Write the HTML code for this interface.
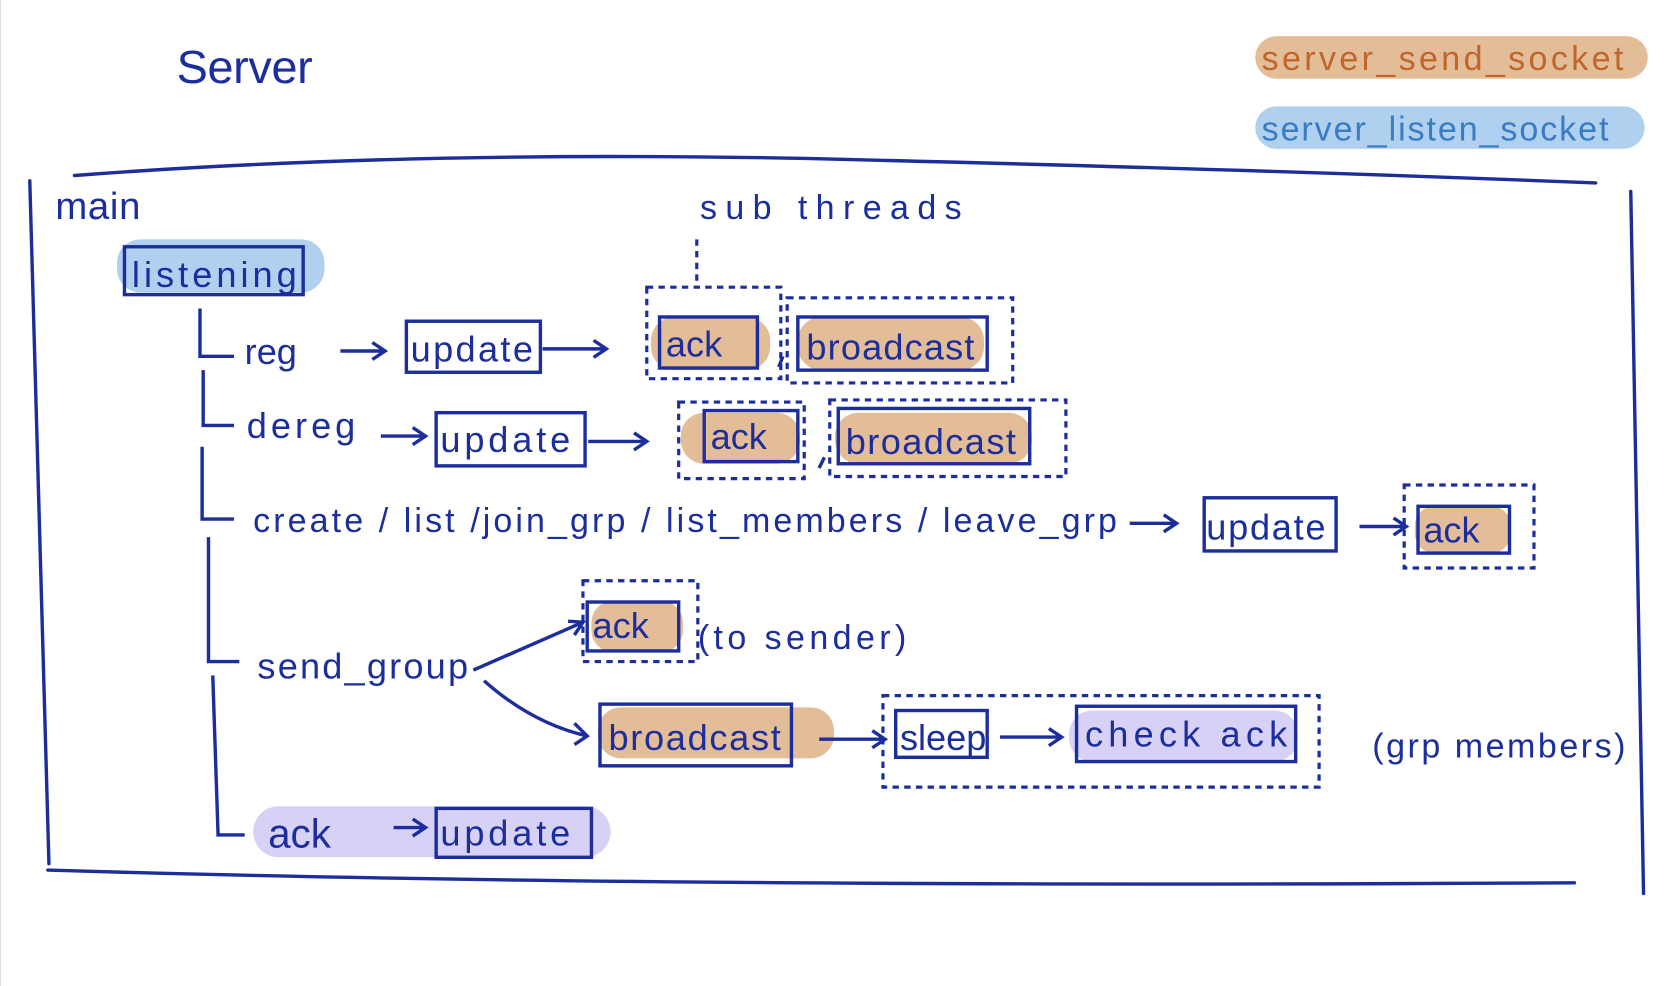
<!DOCTYPE html>
<html><head><meta charset="utf-8"><style>
html,body{margin:0;padding:0;background:#fff;width:1668px;height:986px;overflow:hidden}
svg{display:block}
text{font-family:"Liberation Sans",sans-serif;fill:#1c2d9c}
</style></head><body>
<svg width="1668" height="986" viewBox="0 0 1568 927" preserveAspectRatio="none">
<rect x="0" y="0" width="1568" height="927" fill="#fff"/>
<line x1="0.5" y1="0" x2="0.5" y2="927" stroke="#ddd"/>
<g stroke="#1c2d9c" stroke-width="3.2" fill="none" stroke-linecap="round">
<path d="M70 165 Q400 140 800 150 T1500 172"/>
<path d="M28 170 L46 812"/>
<path d="M45 818 Q600 835 1480 830"/>
<path d="M1533 180 L1545 840"/>
</g>
<text x="166" y="78" font-size="44" textLength="128">Server</text>
<rect x="1180" y="34" width="369" height="40" rx="20" fill="#e3bc98"/>
<text x="1186" y="66" font-size="32" textLength="340" style="fill:#c0662a">server_send_socket</text>
<rect x="1180" y="100" width="366" height="40" rx="20" fill="#afd0ee"/>
<text x="1186" y="132" font-size="32" textLength="326" style="fill:#3a7cc4">server_listen_socket</text>
<text x="52" y="206" font-size="36" textLength="80">main</text>
<text x="658" y="206" font-size="32" textLength="246">sub threads</text>
<g>
<rect x="110" y="225" width="195" height="50" rx="22" fill="#afd0ee"/>
<rect x="612" y="298" width="112" height="50" rx="22" fill="#e3bc98"/>
<rect x="750" y="298" width="175" height="50" rx="22" fill="#e3bc98"/>
<rect x="640" y="388" width="112" height="48" rx="22" fill="#e3bc98"/>
<rect x="785" y="388" width="185" height="48" rx="22" fill="#e3bc98"/>
<rect x="1330" y="476" width="90" height="44" rx="18" fill="#e3bc98"/>
<rect x="556" y="565" width="86" height="48" rx="20" fill="#e3bc98"/>
<rect x="562" y="665" width="222" height="48" rx="22" fill="#e3bc98"/>
<rect x="1005" y="668" width="215" height="48" rx="22" fill="#d7d1f6"/>
<rect x="238" y="758" width="336" height="48" rx="24" fill="#d7d1f6"/>
</g>
<g stroke="#1c2d9c" stroke-width="3.2" fill="none">
<rect x="117" y="232" width="168" height="45"/>
<rect x="382" y="302" width="126" height="48"/>
<rect x="620" y="298" width="92" height="48"/>
<rect x="750" y="298" width="178" height="50"/>
<rect x="410" y="388" width="140" height="50"/>
<rect x="662" y="386" width="88" height="48"/>
<rect x="788" y="384" width="180" height="52"/>
<rect x="1132" y="468" width="124" height="50"/>
<rect x="1333" y="476" width="86" height="44"/>
<rect x="552" y="566" width="86" height="46"/>
<rect x="564" y="662" width="180" height="58"/>
<rect x="842" y="668" width="86" height="44"/>
<rect x="1012" y="664" width="206" height="52"/>
<rect x="410" y="760" width="146" height="46"/>
<path d="M188 290 L188 335 L220 335"/>
<path d="M191 348 L191 400 L220 400"/>
<path d="M190 420 L190 488 L220 488"/>
<path d="M196 505 L196 622 L225 622"/>
<path d="M200 635 L205 785 L230 785"/>
<path d="M320 330 L362 330 M350 322 L362 330 L350 338"/>
<path d="M510 328 L570 328 M558 320 L570 328 L558 336"/>
<path d="M358 410 L400 410 M388 402 L400 410 L388 418"/>
<path d="M553 415 L608 415 M596 407 L608 415 L596 423"/>
<path d="M1062 492 L1106 492 M1094 484 L1106 492 L1094 500"/>
<path d="M1278 495 L1322 495 M1310 487 L1322 495 L1310 503"/>
<path d="M445 630 L548 585 M534 584 L548 585 L540 597"/>
<path d="M455 640 Q500 680 552 692 M540 680 L552 692 L540 700"/>
<path d="M770 695 L832 695 M820 687 L832 695 L820 703"/>
<path d="M940 693 L998 693 M986 685 L998 693 L986 701"/>
<path d="M370 778 L400 778 M388 770 L400 778 L388 786"/>
<path d="M736 335 L732 345"/>
<path d="M775 430 L770 440"/>
</g>
<g stroke="#1c2d9c" stroke-width="3" fill="none" stroke-dasharray="6 5">
<path d="M655 225 L655 270"/>
<rect x="608" y="270" width="126" height="86"/>
<rect x="740" y="280" width="212" height="80"/>
<rect x="638" y="378" width="118" height="72"/>
<rect x="780" y="376" width="222" height="72"/>
<rect x="1320" y="456" width="122" height="78"/>
<rect x="548" y="546" width="108" height="76"/>
<rect x="830" y="654" width="410" height="86"/>
</g>
<g font-size="34">
<text x="124" y="270" textLength="155">listening</text>
<text x="230" y="342">reg</text>
<text x="386" y="340" textLength="115">update</text>
<text x="626" y="335">ack</text>
<text x="758" y="338" textLength="158">broadcast</text>
<text x="232" y="412" textLength="102">dereg</text>
<text x="414" y="425" textLength="122">update</text>
<text x="668" y="422">ack</text>
<text x="795" y="427" textLength="160">broadcast</text>
<text x="238" y="500" font-size="32" textLength="812">create / list /join_grp / list_members / leave_grp</text>
<text x="1134" y="507" textLength="112">update</text>
<text x="1338" y="510">ack</text>
<text x="242" y="638" textLength="198">send_group</text>
<text x="557" y="600">ack</text>
<text x="656" y="610" font-size="32" textLength="196">(to sender)</text>
<text x="572" y="705" textLength="162">broadcast</text>
<text x="846" y="705">sleep</text>
<text x="1020" y="702" textLength="190">check ack</text>
<text x="1290" y="712" font-size="32" textLength="238">(grp members)</text>
<text x="252" y="797" font-size="38">ack</text>
<text x="414" y="795" textLength="122">update</text>
</g>
</svg>
</body></html>
